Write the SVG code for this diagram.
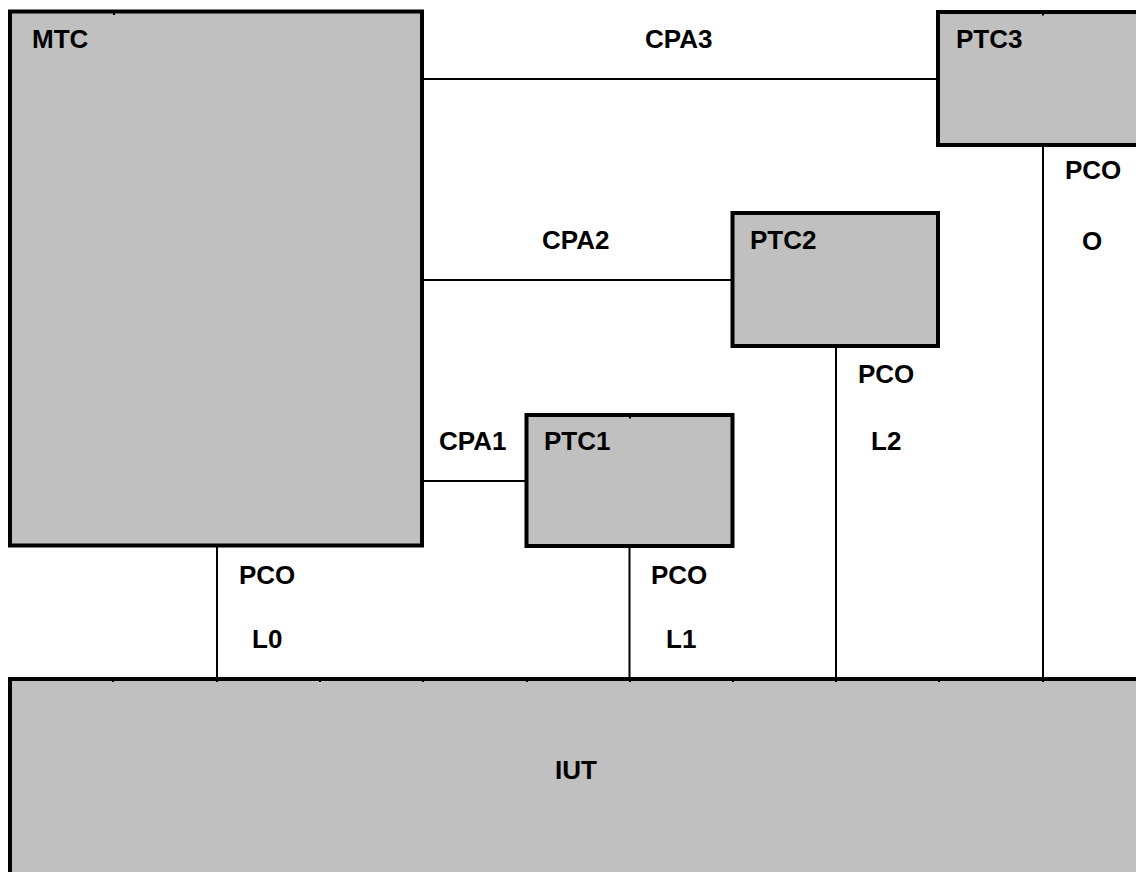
<svg xmlns="http://www.w3.org/2000/svg" width="1136" height="872" viewBox="0 0 1136 872">
<style>
.box{fill:#c0c0c0;stroke:#000;stroke-width:4}
.con{stroke:#000;stroke-width:2;fill:none}
.tick{fill:#000}
text{font-family:"Liberation Sans",Arial,sans-serif;font-weight:bold;font-size:26px;fill:#000}
</style>
<rect width="1136" height="872" fill="#fff"/>
<g id="connectors">
<line class="con" x1="422" y1="79" x2="938" y2="79"/>
<line class="con" x1="422" y1="280" x2="732.5" y2="280"/>
<line class="con" x1="422" y1="481" x2="526.5" y2="481"/>
<line class="con" x1="217" y1="545" x2="217" y2="679"/>
<line class="con" x1="629.5" y1="546" x2="629.5" y2="679"/>
<line class="con" x1="836" y1="346" x2="836" y2="679"/>
<line class="con" x1="1043" y1="145" x2="1043" y2="679"/>
<text x="645" y="48">CPA3</text>
<text x="542" y="249">CPA2</text>
<text x="439" y="450">CPA1</text>
<text x="239" y="584">PCO</text>
<text x="252" y="648">L0</text>
<text x="651" y="584">PCO</text>
<text x="666" y="648">L1</text>
<text x="858" y="383">PCO</text>
<text x="871" y="450">L2</text>
<text x="1065" y="179">PCO</text>
<text x="1082" y="250">O</text>
</g>
<g id="MTC">
<rect class="box" x="10" y="11.5" width="412" height="534"/>
<rect class="tick" x="113" y="13" width="2" height="2"/>
<text x="32" y="48">MTC</text>
</g>
<g id="PTC3">
<rect class="box" x="938" y="12" width="220" height="133"/>
<rect class="tick" x="1042" y="13.5" width="2" height="2"/>
<text x="956" y="48">PTC3</text>
</g>
<g id="PTC2">
<rect class="box" x="732.5" y="213" width="205.5" height="133"/>
<text x="750" y="249">PTC2</text>
</g>
<g id="PTC1">
<rect class="box" x="526.5" y="415" width="206" height="131"/>
<rect class="tick" x="629" y="416.5" width="2" height="2"/>
<text x="544" y="450">PTC1</text>
</g>
<g id="IUT">
<rect class="box" x="10" y="679" width="1140" height="210"/>
<path class="tick" d="M112 680h2v2h-2zM216 680h2v2h-2zM319 680h2v2h-2zM422 680h2v2h-2zM526 680h2v2h-2zM629 680h2v2h-2zM732 680h2v2h-2zM835 680h2v2h-2zM938 680h2v2h-2zM1042 680h2v2h-2z"/>
<text x="555" y="779">IUT</text>
</g>
</svg>
